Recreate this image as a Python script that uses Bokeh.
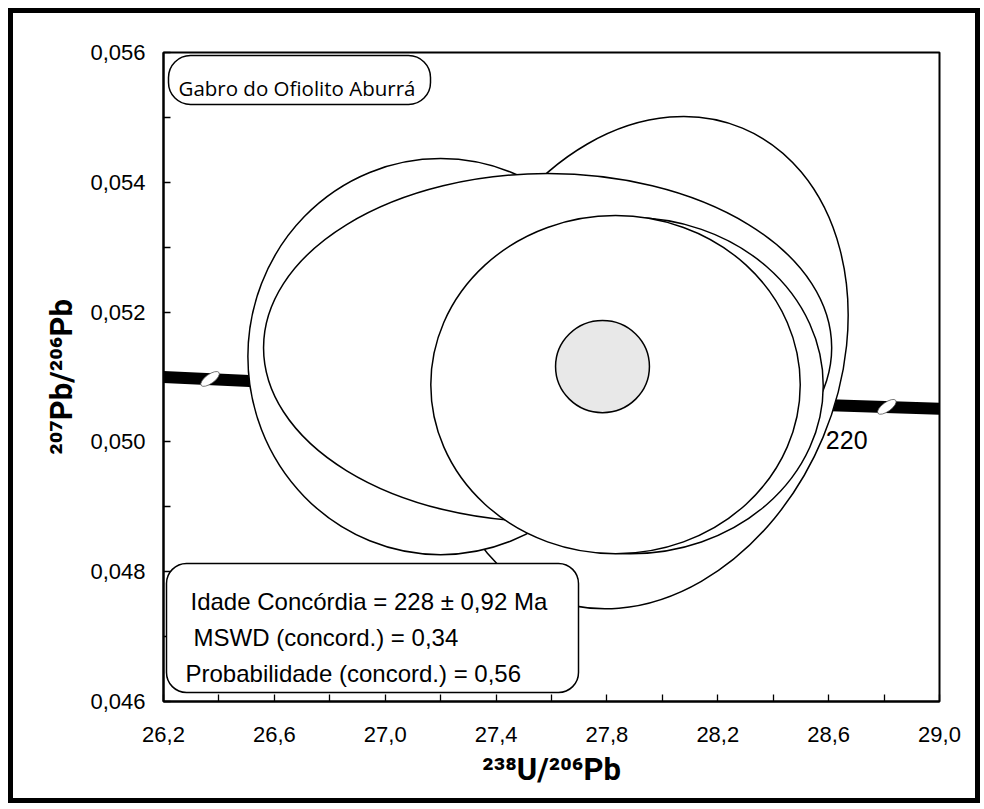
import math
from bokeh.plotting import figure
from bokeh.models import (Range1d, FixedTicker, CustomJSTickFormatter, Label,
                          BoxAnnotation, ColumnDataSource)
from bokeh.core.properties import value
from bokeh.embed import file_html
from bokeh.resources import INLINE

# ---------------- data ----------------
X_TICKS = [26.2, 26.6, 27.0, 27.4, 27.8, 28.2, 28.6, 29.0]
X_MINOR = [26.4, 26.8, 27.2, 27.6, 28.0, 28.4, 28.8]
Y_TICKS = [0.046, 0.048, 0.050, 0.052, 0.054, 0.056]
Y_MINOR = [0.047, 0.049, 0.051, 0.053, 0.055]

X_TITLE = "²³⁸U/²⁰⁶Pb"
Y_TITLE = "²⁰⁷Pb/²⁰⁶Pb"

# concordia curve (visible band)
CONC_X = [26.2, 26.51, 28.58, 29.0]
CONC_Y = [0.05100, 0.05094, 0.05057, 0.05051]

# age markers on the concordia (240 Ma, 220 Ma)
MARK_X = [26.368, 28.81]
MARK_Y = [0.05097, 0.05054]
MARK_LABEL = ["", "220"]

# analysis error ellipses (drawing order: bottom first)
ELL_X = [27.935, 27.200, 27.586, 27.885, 27.831]
ELL_Y = [0.051221, 0.051314, 0.051452, 0.050867, 0.050882]
ELL_W = [1.3975, 1.391, 2.050, 1.391, 1.333]
ELL_H = [0.007834, 0.006105, 0.005365, 0.005180, 0.005210]
ELL_A = [-0.396, 0.0, 0.0, 0.0, 0.0]

# concordia age ellipse
AGE_X = [27.784]
AGE_Y = [0.05116]
AGE_W = [0.3387]
AGE_H = [0.001418]

TITLE = "Gabro do Ofiolito Aburrá"
STATS = ["Idade Concórdia = 228 ± 0,92 Ma",
         "MSWD (concord.) = 0,34",
         "Probabilidade (concord.) = 0,56"]

# ---------------- layout ----------------
X0, X1 = 26.2, 29.0
Y0, Y1 = 0.046, 0.056
W, H = 972, 795
ML, MR, MT, MB = 150, 46, 39, 107
FW = W - ML - MR
FH = H - MT - MB
OFF = 13  # page offset of the canvas (margin + border)


def dx(px):
    return X0 + (px - OFF - ML) / FW * (X1 - X0)


def dy(py):
    return Y1 - (py - OFF - MT) / FH * (Y1 - Y0)


p = figure(width=W, height=H, x_range=Range1d(X0, X1), y_range=Range1d(Y0, Y1),
           output_backend="svg", toolbar_location=None,
           min_border_left=ML, min_border_right=MR, min_border_top=MT,
           min_border_bottom=MB)
p.styles = {"border": "5px solid black", "margin": "8px 0 0 8px"}
p.grid.visible = False
p.outline_line_color = "black"
p.outline_line_width = 2
p.background_fill_color = "white"
p.border_fill_color = "white"

p.xaxis.ticker = FixedTicker(ticks=X_TICKS, minor_ticks=X_MINOR)
p.yaxis.ticker = FixedTicker(ticks=Y_TICKS, minor_ticks=Y_MINOR)
p.xaxis.formatter = CustomJSTickFormatter(code="return tick.toFixed(1).replace('.', ',')")
p.yaxis.formatter = CustomJSTickFormatter(code="return tick.toFixed(3).replace('.', ',')")
for ax in (p.xaxis, p.yaxis):
    ax.major_tick_in = 7
    ax.major_tick_out = 0
    ax.minor_tick_in = 7
    ax.minor_tick_out = 0
    ax.axis_line_width = 2
    ax.major_tick_line_width = 1.3
    ax.minor_tick_line_width = 1.3
    ax.major_label_text_font = "Liberation Sans"
    ax.major_label_text_font_size = "22px"
    ax.major_label_text_color = "black"
    ax.axis_label_text_font = "Roboto"
    ax.axis_label_text_font_style = "bold"
    ax.axis_label_text_font_size = "31px"
    ax.axis_label_text_color = "black"
p.xaxis.major_label_standoff = 25
p.yaxis.major_label_standoff = 18
p.xaxis.axis_label = X_TITLE
p.yaxis.axis_label = Y_TITLE
p.xaxis.axis_label_standoff = 6
p.yaxis.axis_label_standoff = 7

# concordia band
p.line(CONC_X, CONC_Y, line_color="black", line_width=12)
p.ellipse(x=MARK_X, y=MARK_Y, width=22, height=9, angle=0.63,
          width_units="screen", height_units="screen",
          fill_color="white", line_color="#555555", line_width=0.8)

# error ellipses
for i in range(len(ELL_X)):
    p.ellipse(x=[ELL_X[i]], y=[ELL_Y[i]], width=[ELL_W[i]], height=[ELL_H[i]],
              angle=[ELL_A[i]], fill_color="white", line_color="black", line_width=1.5)

p.ellipse(x=AGE_X, y=AGE_Y, width=AGE_W, height=AGE_H, fill_color="#e8e8e8",
          line_color="black", line_width=1.5)

lab_src = ColumnDataSource(dict(x=MARK_X[1:], y=MARK_Y[1:], t=MARK_LABEL[1:]))
p.text(x="x", y="y", text="t", source=lab_src, x_offset=-61, y_offset=33,
       text_font=value("Liberation Sans"), text_font_size="25px",
       text_color="black", text_align="left", text_baseline="alphabetic")

# title box
p.add_layout(BoxAnnotation(left=dx(168), right=dx(430), top=dy(55), bottom=dy(104),
                           fill_color="white", fill_alpha=1, line_color="black",
                           line_alpha=1, line_width=1.5, border_radius=22))
p.add_layout(Label(x=dx(178), y=dy(87), text=TITLE, text_font="Open Sans",
                   text_font_size="20.5px", text_color="black",
                   text_align="left", text_baseline="alphabetic"))

# stats box
p.add_layout(BoxAnnotation(left=dx(166), right=dx(578), top=dy(563), bottom=dy(692),
                           fill_color="white", fill_alpha=1, line_color="black",
                           line_alpha=1, line_width=1.5, border_radius=20))
for (px, py), t in zip([(190, 601), (193, 637), (185, 673)], STATS):
    p.add_layout(Label(x=dx(px), y=dy(py), text=t, text_font="Liberation Sans",
                       text_font_size="24px", text_color="black",
                       text_align="left", text_baseline="alphabetic"))

open("out.html", "w").write(file_html(p, INLINE))
